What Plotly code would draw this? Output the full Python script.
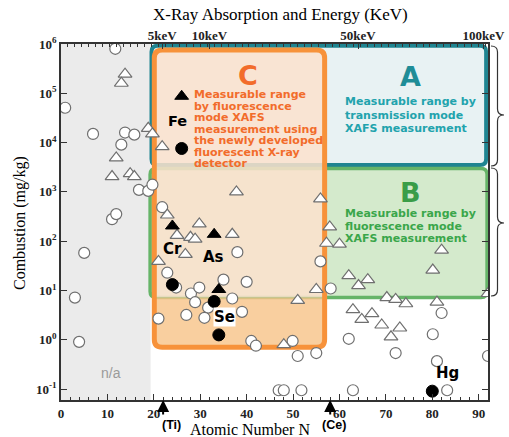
import math
import plotly.graph_objects as go

# ---------------- data ----------------
# open circles (atomic number, mg/kg)
circle_n = [11.7, 0.9, 6.9, 13.8, 15.8, 13.0, 16.8, 18.8, 19.7, 11.0, 11.9, 5.0, 3.0, 3.9,
            21.0, 21.8, 38.0, 22.9, 24.8, 35.0, 40.0, 55.9, 28.0, 29.8, 36.9, 28.9, 31.7,
            27.0, 30.9, 39.0, 58.1, 41.0, 42.0, 49.9, 51.0, 55.0, 46.9, 48.0, 51.8, 82.0,
            62.0, 80.1, 72.1, 81.0, 92.0, 62.9, 83.2]
circle_c = [8.0e5, 5.1e4, 1.5e4, 1.6e4, 1.45e4, 9.1e3, 1.1e3, 1.05e3, 1.4e3, 280, 355, 58, 7.2, 0.91,
            2.7, 490, 60, 23, 11.5, 16.6, 15, 39, 8.7, 11.5, 6.9, 5.8, 4.5,
            3.2, 2.8, 3.7, 11, 0.95, 0.76, 0.95, 0.47, 0.54, 0.095, 0.095, 0.095, 3.5,
            1.05, 1.3, 0.54, 0.37, 0.47, 0.095, 0.095]

# open triangles
tri_n = [13.8, 13.0, 18.8, 19.7, 11.9, 11.0, 14.9, 15.8, 21.8, 37.8, 55.9, 22.9, 29.8, 57.9,
         25.0, 27.9, 28.9, 36.9, 26.8, 21.0, 57.2, 55.0, 51.0, 48.0, 60.0, 82.0, 80.1, 62.0,
         64.1, 66.1, 70.2, 72.1, 74.3, 81.0, 62.9, 64.8, 67.0, 69.1, 73.0, 71.1, 92.0]
tri_c = [2.45e5, 1.6e5, 1.95e4, 1.5e4, 4.9e3, 2.05e3, 2.35e3, 2.05e3, 8.3e3, 1.0e3, 720, 340, 224, 195,
         132, 120, 110, 138, 54, 39, 91, 10.5, 6.3, 0.8, 87, 66, 26, 20,
         12.6, 16.6, 7.2, 6.6, 5.4, 5.8, 4.1, 2.6, 3.4, 2.0, 1.74, 1.15, 8.7]

# highlighted elements (filled markers)
hl_tri_n = [26, 24, 33, 34]          # Fe, Cr, As, Se
hl_tri_c = [8.7e4, 204, 138, 10.5]
hl_circ_n = [26, 24, 33, 34, 80]     # Fe, Cr, As, Se, Hg
hl_circ_c = [7.6e3, 13.2, 6.0, 1.26, 0.091]

# top energy scale
energy_n = [21.8, 32.0, 64.0, 91.0]
energy_lbl = ["5keV", "10keV", "50keV", "100keV"]

y_tickvals = [0.1, 1, 10, 100, 1e3, 1e4, 1e5, 1e6]
y_ticktext = ["10<sup>-1</sup>", "10<sup>0</sup>", "10<sup>1</sup>", "10<sup>2</sup>",
              "10<sup>3</sup>", "10<sup>4</sup>", "10<sup>5</sup>", "10<sup>6</sup>"]

# region bounds (atomic number, mg/kg)
NA_MAX = 19.3
A_N, A_C = (19.5, 91.6), (3.5e3, 9.2e5)
B_N, B_C = (19.2, 91.8), (7.2, 3.0e3)
C_N, C_C = (20.1, 56.8), (0.71, 7.6e5)

# ---------------- layout helpers ----------------
W, H = 509, 437
ML, MR, MT, MB = 61, 21, 44, 37
PW, PH = W - ML - MR, H - MT - MB
XR = [0, 92]
YR = [-1.22, 6.0]


def xpap(x):
    return (x - XR[0]) / (XR[1] - XR[0])


def ypap(v):
    return (math.log10(v) - YR[0]) / (YR[1] - YR[0])


def pxp(px):
    return (px - ML) / PW


def pyp(py):
    return (H - MB - py) / PH


def rrect(x0, x1, y0, y1, r, top=True, bottom=True):
    rx, ry = r / PW, r / PH
    tx, ty = (rx, ry) if top else (0, 0)
    bx, by = (rx, ry) if bottom else (0, 0)
    return (f"M {x0+bx},{y0} L {x1-bx},{y0} Q {x1},{y0} {x1},{y0+by} "
            f"L {x1},{y1-ty} Q {x1},{y1} {x1-tx},{y1} L {x0+tx},{y1} "
            f"Q {x0},{y1} {x0},{y1-ty} L {x0},{y0+by} Q {x0},{y0} {x0+bx},{y0} Z")


def brace(x0, w, top, tip, bot, r=6):
    xm = x0 + w / 2
    pts = [(x0, top), (xm, top), (xm, top + r), (xm, tip - r), (xm, tip), (x0 + w, tip),
           (xm, tip), (xm, tip + r), (xm, bot - r), (xm, bot), (x0, bot)]
    p = [(pxp(a), pyp(b)) for a, b in pts]
    return (f"M {p[0][0]},{p[0][1]} Q {p[1][0]},{p[1][1]} {p[2][0]},{p[2][1]} "
            f"L {p[3][0]},{p[3][1]} Q {p[4][0]},{p[4][1]} {p[5][0]},{p[5][1]} "
            f"Q {p[6][0]},{p[6][1]} {p[7][0]},{p[7][1]} L {p[8][0]},{p[8][1]} "
            f"Q {p[9][0]},{p[9][1]} {p[10][0]},{p[10][1]}")


SERIF = "Liberation Serif"
SANS = "DejaVu Sans"

fig = go.Figure()

fig.add_trace(go.Scatter(
    x=circle_n, y=circle_c, mode="markers", showlegend=False, hoverinfo="skip",
    marker=dict(symbol="circle", size=11, color="white", line=dict(color="#6f6f6f", width=1.2))))
fig.add_trace(go.Scatter(
    x=tri_n, y=tri_c, mode="markers", showlegend=False, hoverinfo="skip",
    marker=dict(symbol="triangle-up", size=12, color="white", line=dict(color="#6f6f6f", width=1.2))))
fig.add_trace(go.Scatter(
    x=hl_tri_n, y=hl_tri_c, mode="markers", showlegend=False, hoverinfo="skip",
    marker=dict(symbol="triangle-up", size=12, color="black", line=dict(color="black", width=1))))
fig.add_trace(go.Scatter(
    x=hl_circ_n, y=hl_circ_c, mode="markers", showlegend=False, hoverinfo="skip",
    marker=dict(symbol="circle", size=12, color="black", line=dict(color="black", width=1))))
# carrier for the top (energy) axis
fig.add_trace(go.Scatter(
    x=energy_n, y=[1e6] * len(energy_n), xaxis="x2", mode="markers", showlegend=False,
    hoverinfo="skip", marker=dict(opacity=0)))

shapes = []
shapes.append(dict(type="rect", xref="paper", yref="paper", x0=xpap(0), x1=xpap(NA_MAX), y0=0, y1=1,
                   fillcolor="#ebebeb", line=dict(width=0), layer="below"))
shapes.append(dict(type="path", xref="paper", yref="paper",
                   path=rrect(xpap(A_N[0]), xpap(A_N[1]), ypap(A_C[0]), ypap(A_C[1]), 6),
                   fillcolor="#e8f2f3", line=dict(color="#1f8591", width=4), layer="below"))
shapes.append(dict(type="path", xref="paper", yref="paper",
                   path=rrect(xpap(B_N[0]), xpap(B_N[1]), ypap(B_C[0]), ypap(B_C[1]), 6),
                   fillcolor="#d4eacc", line=dict(color="#66b468", width=3.5), layer="below"))
shapes.append(dict(type="path", xref="paper", yref="paper",
                   path=rrect(xpap(C_N[0]), xpap(C_N[1]), ypap(B_C[0]), ypap(C_C[1]), 8, bottom=False),
                   fillcolor="rgba(251,226,205,0.86)", line=dict(width=0), layer="below"))
shapes.append(dict(type="path", xref="paper", yref="paper",
                   path=rrect(xpap(C_N[0]), xpap(C_N[1]), ypap(C_C[0]), ypap(B_C[0]), 8, top=False),
                   fillcolor="rgba(248,195,135,0.8)", line=dict(width=0), layer="below"))
shapes.append(dict(type="path", xref="paper", yref="paper",
                   path=rrect(xpap(C_N[0]), xpap(C_N[1]), ypap(C_C[0]), ypap(C_C[1]), 8),
                   fillcolor="rgba(0,0,0,0)", line=dict(color="#f7923a", width=5), layer="below"))
shapes.append(dict(type="path", xref="paper", yref="paper", path=brace(491, 13, 46, 115, 166),
                   line=dict(color="#333333", width=1.2)))
shapes.append(dict(type="path", xref="paper", yref="paper", path=brace(491, 13, 168, 223, 296),
                   line=dict(color="#333333", width=1.2)))

ann = []


def txt(px, py, text, size, color="black", family=SANS, xanchor="center", **kw):
    ann.append(dict(x=pxp(px), y=pyp(py), xref="paper", yref="paper", text=text, showarrow=False,
                    xanchor=xanchor, yanchor="middle", font=dict(size=size, color=color, family=family), **kw))


txt(280, 15, "X-Ray Absorption and Energy (KeV)", 17, family=SERIF)
txt(250, 429, "Atomic Number N", 16, family=SERIF)
txt(20, 223, "Combustion (mg/kg)", 16, family=SERIF, textangle=-90)
txt(171, 425, "<b>(Ti)</b>", 12.5, family="Liberation Sans")
txt(334, 425, "<b>(Ce)</b>", 12.5, family="Liberation Sans")

for n in [22, 58]:
    ann.append(dict(x=n, y=0, xref="x", yref="paper", text="", showarrow=True, ax=0, ay=16,
                    arrowhead=2, arrowsize=1.2, arrowwidth=2, arrowcolor="black"))

TEAL, TEAL_T = "#1f8d97", "#22a3ad"
GREEN, GREEN_T = "#3a9d48", "#3aa64a"
ORANGE = "#f26c2b"

txt(410, 77, "<b>A</b>", 27, TEAL)
for i, line in enumerate(["Measurable range by", "transmission mode", "XAFS measurement"]):
    txt(343, 102 + 13 * i, f"<b>{line}</b>", 11, TEAL_T, xanchor="left")
txt(410, 192, "<b>B</b>", 27, GREEN)
for i, line in enumerate(["Measurable range by", "fluorescence mode", "XAFS measurement"]):
    txt(343, 213 + 13 * i, f"<b>{line}</b>", 11, GREEN_T, xanchor="left")
txt(248, 75, "<b>C</b>", 27, ORANGE)
for i, line in enumerate(["Measurable range", "by fluorescence", "mode XAFS", "measurement using",
                          "the newly developed", "fluorescent X-ray", "detector"]):
    txt(192, 95 + 11.4 * i, f"<b>{line}</b>", 11, ORANGE, xanchor="left")

txt(177, 121, "<b>Fe</b>", 14.5)
txt(172, 249, "<b>Cr</b>", 15)
txt(213, 257, "<b>As</b>", 15)
txt(224, 317, "<b>Se</b>", 15, bgcolor="white", borderpad=0)
txt(447, 373, "<b>Hg</b>", 15)
txt(111, 373, "n/a", 14, "#9a9a9a", family="Liberation Sans")

fig.update_layout(
    width=W, height=H, autosize=False,
    margin=dict(l=ML, r=MR, t=MT, b=MB, pad=0, autoexpand=False),
    paper_bgcolor="white", plot_bgcolor="white",
    shapes=shapes, annotations=ann,
    xaxis=dict(range=XR, dtick=10, tick0=0, ticks="inside", ticklen=6, tickwidth=1.2,
               tickcolor="#333", showgrid=False, zeroline=False, showline=True, automargin=False,
               linecolor="#333", linewidth=1.8, mirror=True,
               tickfont=dict(family=SERIF, size=13, color="#222", weight="bold"),
               minor=dict(dtick=2, ticks="inside", ticklen=3, tickcolor="#333", showgrid=False)),
    xaxis2=dict(range=XR, overlaying="x", side="top", anchor="y", tickmode="array", automargin=False,
                tickvals=energy_n, ticktext=energy_lbl, ticks="inside", ticklen=5,
                tickcolor="#333", showgrid=False, zeroline=False, showline=False,
                tickfont=dict(family=SERIF, size=13, color="#222", weight="bold"),
                minor=dict(tickmode="linear", tick0=0, dtick=1.5, ticks="inside", ticklen=3,
                           tickcolor="#333", showgrid=False)),
    yaxis=dict(type="log", range=YR, tickmode="array", tickvals=y_tickvals, ticktext=y_ticktext,
               ticks="inside", ticklen=6, tickwidth=1.2, tickcolor="#333", showgrid=False,
               automargin=False,
               zeroline=False, showline=True, linecolor="#333", linewidth=1.8, mirror="ticks",
               tickfont=dict(family=SERIF, size=13, color="#222", weight="bold")),
)

fig.write_html("out.html", config={"responsive": False, "displayModeBar": False},
               post_script="document.body.style.margin='0';document.body.style.overflow='hidden';")
